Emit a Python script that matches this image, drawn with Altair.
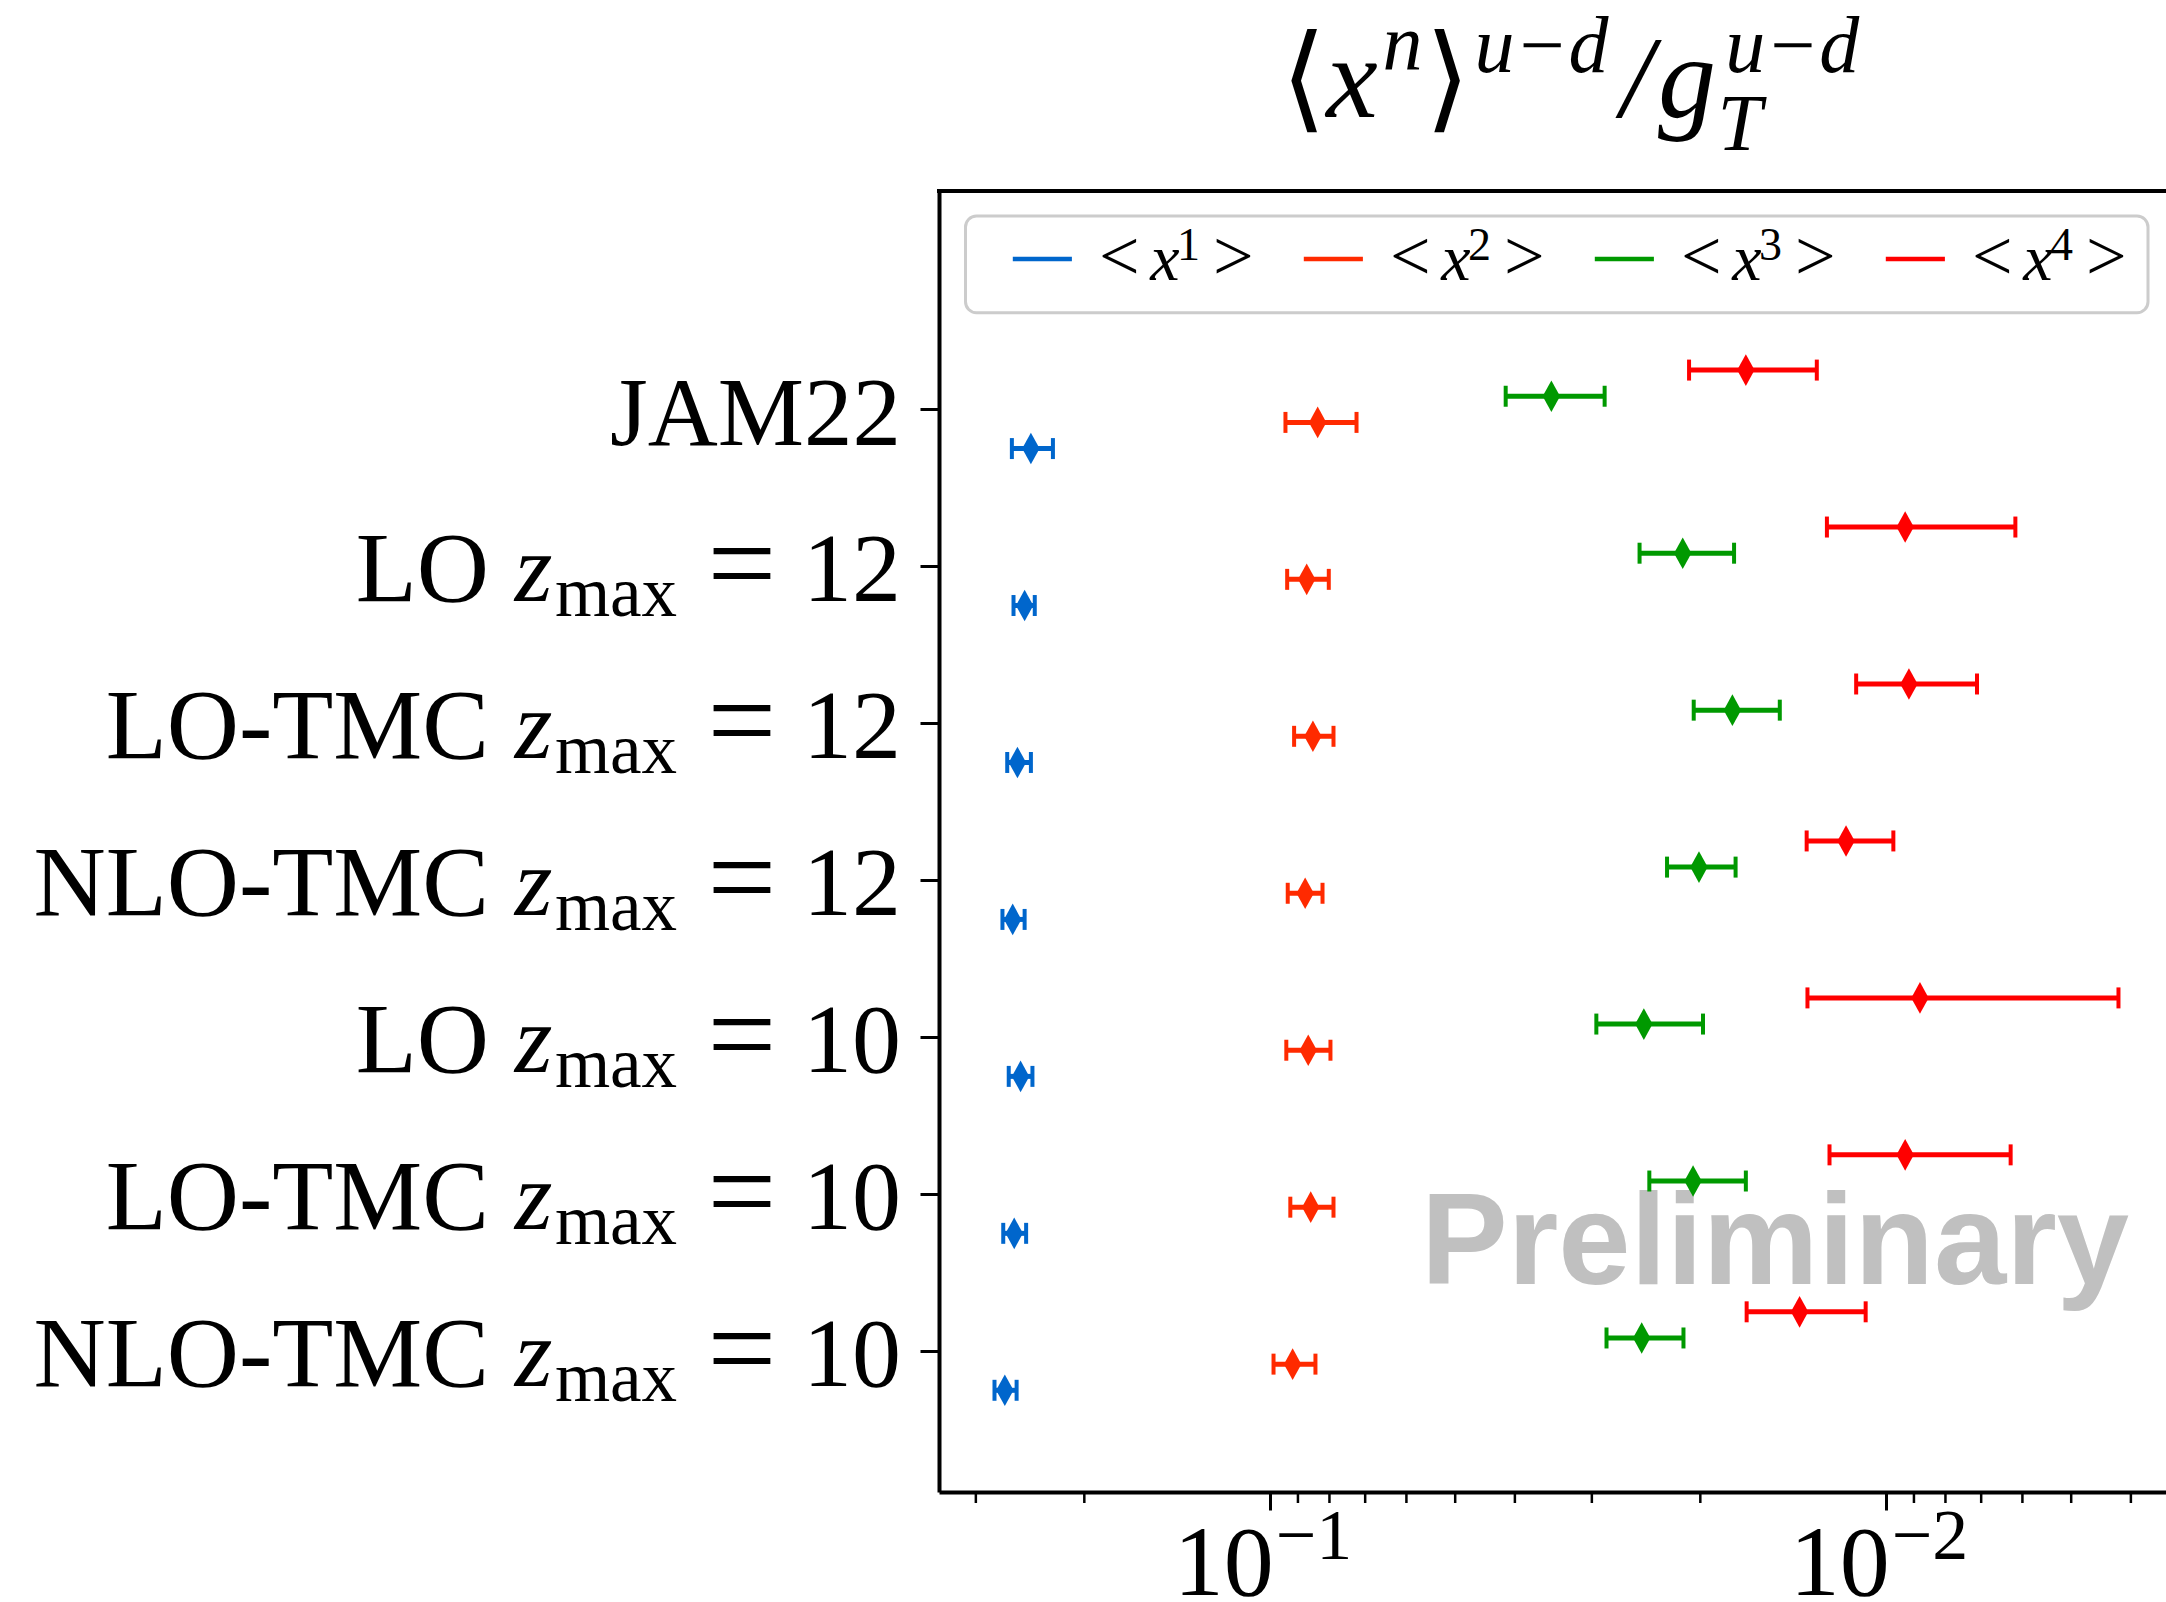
import altair as alt
import pandas as pd

# ---------------- data ----------------
row_methods = ["JAM22", "LO", "LO-TMC", "NLO-TMC", "LO", "LO-TMC", "NLO-TMC"]
row_zmax = ["", "12", "12", "12", "10", "10", "10"]

series = ["x1", "x2", "x3", "x4"]
series_sup = ["1", "2", "3", "4"]
colors = ["#0066CC", "#FF2A00", "#009900", "#FF0000"]

x1_c = [0.2442, 0.2500, 0.2568, 0.2614, 0.2538, 0.2599, 0.2692]
x1_hi = [0.2622, 0.2606, 0.2668, 0.2716, 0.2653, 0.2708, 0.2798]
x1_lo = [0.2249, 0.2407, 0.2442, 0.2500, 0.2428, 0.2486, 0.2576]

x2_c = [0.0836, 0.0871, 0.0851, 0.0876, 0.0866, 0.0858, 0.0918]
x2_hi = [0.0943, 0.0937, 0.0913, 0.0935, 0.0940, 0.0926, 0.0986]
x2_lo = [0.0723, 0.0802, 0.0788, 0.0821, 0.0797, 0.0788, 0.0843]

x3_c = [0.0349, 0.02136, 0.01774, 0.0201, 0.0247, 0.02055, 0.0249]
x3_hi = [0.0414, 0.0251, 0.0205, 0.02265, 0.0295, 0.0242, 0.0284]
x3_lo = [0.0286, 0.01763, 0.01486, 0.01753, 0.0198, 0.01687, 0.0213]

x4_c = [0.01687, 0.0093, 0.00917, 0.0116, 0.0088, 0.0093, 0.0138]
x4_hi = [0.02086, 0.01246, 0.01117, 0.01344, 0.0134, 0.01234, 0.01682]
x4_lo = [0.01294, 0.00616, 0.00711, 0.00972, 0.00419, 0.00627, 0.01078]

major_ticks = [0.1, 0.01]
major_exp = ["\u22121", "\u22122"]
minor_ticks = [0.3, 0.2, 0.09, 0.08, 0.07, 0.06, 0.05, 0.04, 0.03, 0.02,
               0.009, 0.008, 0.007, 0.006, 0.005, 0.004]

# ---------------- layout ----------------
W, H = 1227, 1301
SERIF = "Liberation Serif"
dodge = [-0.25, -1 / 12, 1 / 12, 0.25]
n_rows = len(row_methods)

centers = [x1_c, x2_c, x3_c, x4_c]
highs = [x1_hi, x2_hi, x3_hi, x4_hi]
lows = [x1_lo, x2_lo, x3_lo, x4_lo]

recs = []
for k, s in enumerate(series):
    for r in range(n_rows):
        recs.append(dict(series=s, ypos=(n_rows - 1 - r) + dodge[k],
                         val=centers[k][r], hi=highs[k][r], lo=lows[k][r]))
df = pd.DataFrame(recs)

lab = pd.DataFrame({"ypos": [n_rows - 1 - r for r in range(n_rows)],
                    "method": row_methods, "zmax": row_zmax})

xscale = alt.Scale(type="log", domain=[0.003508, 0.3443], reverse=True, nice=False)
yscale = alt.Scale(domain=[-0.898, 7.391], nice=False, zero=False)
xaxis = alt.Axis(values=major_ticks, labels=False, tickSize=18, tickWidth=3,
                 domainWidth=4, domainColor="black", tickColor="black",
                 grid=False, title=None)
yaxis = alt.Axis(values=list(range(n_rows)), labels=False, tickSize=19, tickWidth=3,
                 domainWidth=4, domainColor="black", tickColor="black",
                 grid=False, title=None)
cscale = alt.Scale(domain=series, range=colors)


def X(f):
    return alt.X(f, type="quantitative", scale=xscale, axis=xaxis)


def Y(f):
    return alt.Y(f, type="quantitative", scale=yscale, axis=yaxis)


ONE = pd.DataFrame({"a": [0]})


def piece(text, x, y, size, style="normal", align="center", weight="normal",
          color="black", font=SERIF):
    return alt.Chart(ONE).mark_text(
        text=text, align=align, baseline="alphabetic", fontSize=size,
        fontStyle=style, fontWeight=weight, font=font, color=color
    ).encode(x=alt.value(x), y=alt.value(y))


layers = []

# watermark
layers.append(piece("Preliminary", 836, 1093, 130, weight="bold",
                    color="#c0c0c0", font="Liberation Sans"))

# error bars
layers.append(alt.Chart(df).mark_rule(strokeWidth=5).encode(
    x=X("hi"), x2="lo", y=Y("ypos"),
    color=alt.Color("series:N", scale=cscale, legend=None)))
layers.append(alt.Chart(df).transform_fold(["hi", "lo"], as_=["end", "xv"]).mark_point(
    shape="M0,-1L0,1", size=440, filled=False, strokeWidth=4, opacity=1).encode(
    x=X("xv"), y=Y("ypos"),
    color=alt.Color("series:N", scale=cscale, legend=None)))
layers.append(alt.Chart(df).mark_point(
    shape="M0,-1L0.55,0L0,1L-0.55,0Z", size=1000, filled=True, opacity=1,
    strokeWidth=0).encode(
    x=X("val"), y=Y("ypos"),
    fill=alt.Fill("series:N", scale=cscale, legend=None)))

# minor ticks
layers.append(alt.Chart(pd.DataFrame({"v": minor_ticks})).mark_rule(
    strokeWidth=2.5, color="black").encode(
    x=X("v"), y=alt.value(H), y2=alt.value(H + 11)))

# x tick labels 10^-n
mj = pd.DataFrame({"v": major_ticks, "exp": major_exp})
layers.append(alt.Chart(mj).mark_text(
    text="10", align="right", dx=4, baseline="alphabetic", fontSize=100,
    font=SERIF, color="black").encode(x=X("v"), y=alt.value(1404)))
layers.append(alt.Chart(mj).mark_text(
    align="left", dx=6, baseline="alphabetic", fontSize=72,
    font=SERIF, color="black").encode(x=X("v"), y=alt.value(1368),
                                      text="exp:N"))

# top spine
layers.append(alt.Chart(ONE).mark_rule(strokeWidth=4, color="black").encode(
    x=alt.value(-2), x2=alt.value(W), y=alt.value(0)))

# y category labels
jam = alt.Chart(lab).transform_filter("datum.zmax == ''")
oth = alt.Chart(lab).transform_filter("datum.zmax != ''")
layers.append(jam.mark_text(align="right", baseline="alphabetic", dy=36, fontSize=97,
                            font=SERIF, color="black").encode(
    x=alt.value(-38), y=Y("ypos"), text="method:N"))
layers.append(oth.mark_text(align="right", baseline="alphabetic", dy=35, fontSize=100,
                            font=SERIF, color="black").encode(
    x=alt.value(-450), y=Y("ypos"), text="method:N"))
layers.append(oth.mark_text(text="z", align="center", baseline="alphabetic", dy=35,
                            fontSize=97, fontStyle="italic", font=SERIF,
                            color="black").encode(x=alt.value(-405.5), y=Y("ypos")))
layers.append(oth.mark_text(text="max", align="center", baseline="alphabetic", dy=50,
                            fontSize=71, font=SERIF, color="black").encode(
    x=alt.value(-323), y=Y("ypos")))
layers.append(oth.mark_text(text="=", align="center", baseline="alphabetic", dy=38,
                            fontSize=122, font=SERIF, color="black").encode(
    x=alt.value(-197), y=Y("ypos")))
layers.append(oth.mark_text(align="right", baseline="alphabetic", dy=35, fontSize=98,
                            font=SERIF, color="black").encode(
    x=alt.value(-38), y=Y("ypos"), text="zmax:N"))

# title  <x^n>^{u-d} / g_T^{u-d}
layers += [
    piece("\u27e8", 364.7, -74, 116),
    piece("x", 413, -74, 116, style="italic"),
    piece("n", 463.6, -122, 80, style="italic"),
    piece("\u27e9", 508, -74, 116),
    piece("u\u2212d", 602.5, -119, 80, style="italic"),
    piece("/", 697.8, -74, 116, style="italic"),
    piece("g", 748, -74, 116, style="italic"),
    piece("T", 800.8, -41, 80, style="italic"),
    piece("u\u2212d", 853.3, -119, 80, style="italic"),
]

# legend box
layers.append(alt.Chart(ONE).mark_rect(
    fill="white", stroke="#cccccc", strokeWidth=3, cornerRadius=11).encode(
    x=alt.value(26.5), x2=alt.value(1209), y=alt.value(25), y2=alt.value(121.7)))
STEP = 291
for i, s in enumerate(series):
    off = i * STEP
    layers.append(alt.Chart(ONE).mark_rule(strokeWidth=4.5, color=colors[i]).encode(
        x=alt.value(73.8 + off), x2=alt.value(132.9 + off), y=alt.value(68)))
    layers.append(piece("<", 180.2 + off, 89, 72))
    layers.append(piece("x", 225.9 + off, 89, 66, style="italic"))
    layers.append(piece(series_sup[i], 249.6 + off, 69, 46))
    layers.append(piece(">", 294.3 + off, 89, 72))

chart = alt.layer(*layers).properties(
    width=W, height=H,
    autosize=alt.AutoSizeParams(type="none"),
    padding={"left": 939, "top": 191, "right": 0, "bottom": 110},
    background="white",
).configure_view(stroke=None)

chart.save("out.html", embed_options={"renderer": "svg", "actions": False})
